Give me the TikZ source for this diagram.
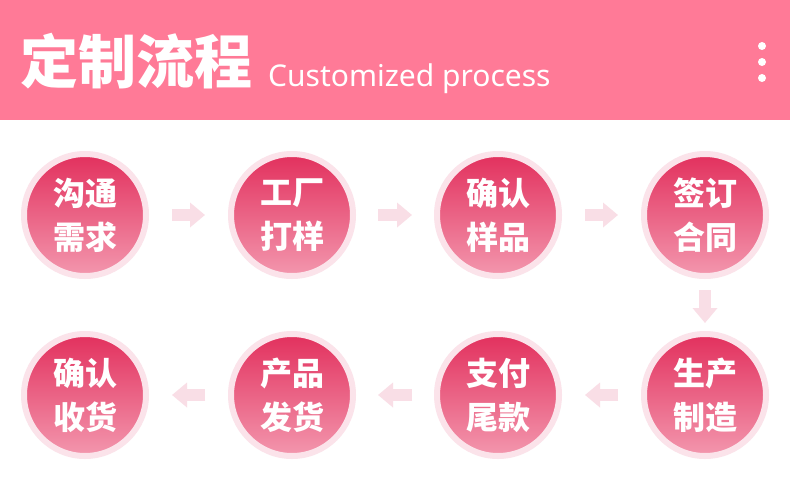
\documentclass[tikz,border=0pt]{standalone}
\usepackage{fontspec}
\setmainfont{Noto Sans}
\newfontfamily\cjk{Noto Sans CJK SC}
\usetikzlibrary{arrows.meta}
\definecolor{bandpink}{HTML}{FF7A97}
\definecolor{ringpink}{HTML}{FBE3EA}
\definecolor{topred}{HTML}{E2305D}
\definecolor{botpink}{HTML}{F397AE}
\definecolor{flowpink}{HTML}{F9DEE6}
\tikzset{
  stepdisk/.style={circle,minimum size=122pt,inner sep=0pt,draw=ringpink,line width=6pt,
    top color=topred,bottom color=botpink,text=white,align=center,
    font=\cjk\bfseries\fontsize{32}{44}\selectfont},
  flow/.style={flowpink,line width=12pt,-{Triangle[length=15pt,width=24pt]}}
}

\begin{document}
\begin{tikzpicture}[x=1pt,y=-1pt]
					\useasboundingbox (0,0) rectangle (790,498);
					\fill[white] (0,0) rectangle (790,498);
					%HEADER
					\fill[bandpink] (0,0) rectangle (790,120);
					\node[anchor=base west,inner sep=0pt,text=white,font=\cjk\bfseries\fontsize{58}{60}\selectfont](title) at (20,83) {定制流程};
					\node[anchor=base west,inner sep=0pt,text=white,font=\fontsize{30}{32}\selectfont](subtitle) at (268,86) {Customized process};
					\fill[white] (762,46) circle (4);
					\fill[white] (762,62) circle (4);
					\fill[white] (762,78) circle (4);
					%STEPS
					\node[stepdisk](s1) at (85,215) {沟通\\需求};
					\node[stepdisk](s2) at (292,215) {工厂\\打样};
					\node[stepdisk](s3) at (498,215) {确认\\样品};
					\node[stepdisk](s4) at (705,215) {签订\\合同};
					\node[stepdisk](s5) at (705,395) {生产\\制造};
					\node[stepdisk](s6) at (498,395) {支付\\尾款};
					\node[stepdisk](s7) at (292,395) {产品\\发货};
					\node[stepdisk](s8) at (85,395) {确认\\收货};
					%ARROWS
					\draw[flow,shorten <=23pt,shorten >=23pt] (s1) -- (s2);
					\draw[flow,shorten <=22pt,shorten >=22pt] (s2) -- (s3);
					\draw[flow,shorten <=23pt,shorten >=23pt] (s3) -- (s4);
					\draw[flow,shorten <=11pt,shorten >=8pt] (s4) -- (s5);
					\draw[flow,shorten <=23pt,shorten >=23pt] (s5) -- (s6);
					\draw[flow,shorten <=22pt,shorten >=22pt] (s6) -- (s7);
					\draw[flow,shorten <=23pt,shorten >=23pt] (s7) -- (s8);
\end{tikzpicture}
\end{document}
